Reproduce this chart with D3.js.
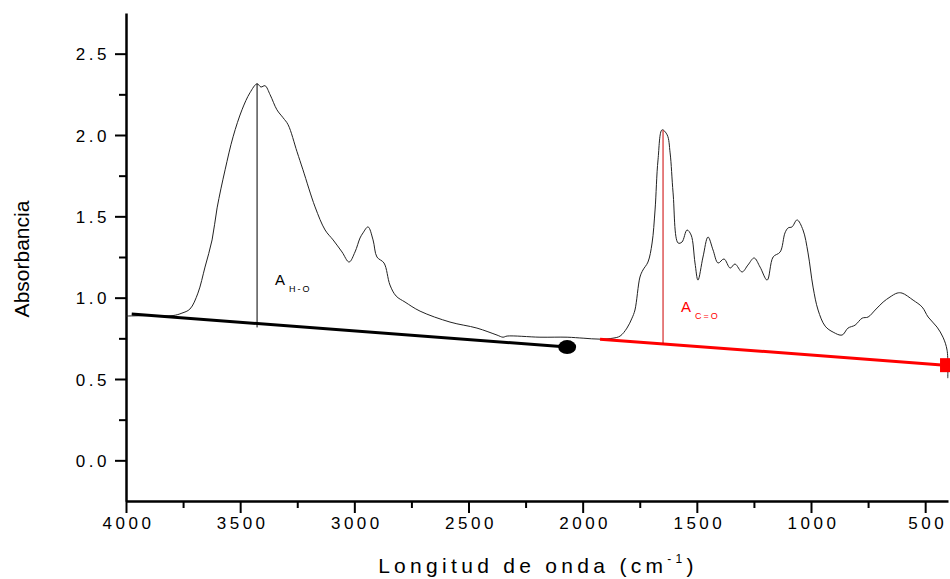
<!DOCTYPE html>
<html>
<head>
<meta charset="utf-8">
<script src="https://cdn.jsdelivr.net/npm/d3@7"></script>
<style>
  body { margin: 0; background: #fff; }
  .tickText { font-family: Arial, "Liberation Sans", sans-serif; font-size: 17px; letter-spacing: 3.5px; fill: #000; }
  .axisTitle { font-family: Arial, "Liberation Sans", sans-serif; fill: #000; }
</style>
</head>
<body>
<div id="chart"></div>
<script>
// IR spectrum, wavenumber (cm-1) vs absorbance
var wavenumber = [4000, 3895, 3794, 3755, 3720, 3685, 3654, 3623, 3601, 3566, 3531, 3492, 3457, 3426, 3409, 3391, 3369, 3339, 3312, 3290,
                  3251, 3225, 3172, 3128, 3093, 3054, 3023, 2997, 2975, 2962, 2940, 2918, 2901, 2870, 2844, 2817, 2778, 2712, 2581, 2463,
                  2375, 2349, 2331, 2187, 2068, 1998, 1924, 1867, 1836, 1806, 1784, 1771, 1749, 1736, 1714, 1696, 1683, 1670, 1652, 1630,
                  1617, 1604, 1582, 1565, 1543, 1525, 1508, 1495, 1473, 1451, 1429, 1407, 1381, 1354, 1333, 1302, 1276, 1249, 1223, 1192,
                  1166, 1135, 1114, 1100, 1083, 1061, 1035, 1013, 991, 969, 938, 903, 864, 838, 807, 776, 750, 719, 684, 654,
                  623, 601, 553, 513, 487, 448, 422, 404, 401];
var absorbance = [0.887, 0.890, 0.890, 0.905, 0.930, 1.028, 1.188, 1.355, 1.552, 1.786, 1.989, 2.155, 2.260, 2.315, 2.295, 2.303, 2.248, 2.155, 2.106, 2.063,
                  1.897, 1.786, 1.558, 1.416, 1.355, 1.281, 1.219, 1.281, 1.367, 1.398, 1.435, 1.355, 1.250, 1.213, 1.078, 1.010, 0.973, 0.917, 0.850, 0.813,
                  0.770, 0.757, 0.764, 0.757, 0.757, 0.751, 0.745, 0.751, 0.764, 0.813, 0.874, 0.924, 1.127, 1.170, 1.219, 1.336, 1.539, 1.847, 2.032, 2.001,
                  1.890, 1.644, 1.336, 1.342, 1.416, 1.385, 1.213, 1.108, 1.250, 1.373, 1.293, 1.213, 1.238, 1.182, 1.207, 1.158, 1.201, 1.244, 1.188, 1.108,
                  1.250, 1.281, 1.398, 1.429, 1.435, 1.478, 1.416, 1.275, 1.065, 0.924, 0.825, 0.788, 0.770, 0.813, 0.831, 0.874, 0.881, 0.924, 0.973, 1.004,
                  1.028, 1.028, 0.985, 0.942, 0.881, 0.819, 0.757, 0.677, 0.505];

// baselines drawn under each band
var baseHO = {x: [3975, 2068], y: [0.900, 0.696]};
var baseCO = {x: [1924, 413], y: [0.745, 0.585]};

// peak heights (vertical lines)
var peakHO = {x: 3426, top: 2.315, bottom: 0.817};
var peakCO = {x: 1648, top: 2.030, bottom: 0.716};

// labels
var labelHO = {x: 3347, y: 1.078, sub: "H-O"};
var labelCO = {x: 1569, y: 0.911, sub: "C=O"};

var xTicks = [4000, 3500, 3000, 2500, 2000, 1500, 1000, 500];
var xMinor = [3750, 3250, 2750, 2250, 1750, 1250, 750];
var yTicks = [0.0, 0.5, 1.0, 1.5, 2.0, 2.5];
var yMinor = [0.25, 0.75, 1.25, 1.75, 2.25];

var margin = {top: 13, right: 2, bottom: 78, left: 126};
var svgWidth = 950, svgHeight = 579;
var width = svgWidth - margin.left - margin.right;
var height = svgHeight - margin.top - margin.bottom;

var svg = d3.select("#chart").append("svg")
    .attr("width", svgWidth)
    .attr("height", svgHeight);

var g = svg.append("g").attr("transform", "translate(" + margin.left + "," + margin.top + ")");

var xScale = d3.scaleLinear().domain([4000, 400]).range([0, width]);
var yScale = d3.scaleLinear().domain([-0.25, 2.75]).range([height, 0]);

//axes: major ticks with labels, minor ticks without
var xAxis = d3.axisBottom(xScale).tickValues(xTicks).tickSize(12).tickSizeOuter(0)
    .tickFormat(d3.format("d"));
var yAxis = d3.axisLeft(yScale).tickValues(yTicks).tickSize(11).tickSizeOuter(0)
    .tickFormat(d3.format(".1f"));

var gx = g.append("g").attr("transform", "translate(0," + height + ")").call(xAxis);
var gy = g.append("g").call(yAxis);

g.append("g").attr("transform", "translate(0," + height + ")")
    .call(d3.axisBottom(xScale).tickValues(xMinor).tickSize(7).tickSizeOuter(0).tickFormat(""))
    .select(".domain").remove();
g.append("g")
    .call(d3.axisLeft(yScale).tickValues(yMinor).tickSize(7).tickSizeOuter(0).tickFormat(""))
    .select(".domain").remove();

g.selectAll(".domain").attr("stroke", "#000").attr("stroke-width", 2.5);
g.selectAll(".tick line").attr("stroke", "#000").attr("stroke-width", 2);

gx.selectAll(".tick text").attr("class", "tickText").attr("dy", 0).attr("y", 28)
    .attr("dx", 2);
gy.selectAll(".tick text").attr("class", "tickText").attr("x", -16).attr("dy", "0.36em");

// axis titles
var xTitle = svg.append("text")
    .attr("class", "axisTitle")
    .attr("x", 538)
    .attr("y", 573)
    .attr("text-anchor", "middle")
    .style("font-size", "21px")
    .style("letter-spacing", "4.3px");
xTitle.append("tspan").text("Longitud de onda (cm");
xTitle.append("tspan").text("-1").style("font-size", "12px").attr("dy", -10);
xTitle.append("tspan").text(")").attr("dy", 10);

svg.append("text")
    .attr("class", "axisTitle")
    .attr("transform", "translate(29," + 259 + ") rotate(-90)")
    .attr("text-anchor", "middle")
    .style("font-size", "21px")
    .text("Absorbancia");

// spectrum
var spectrum = wavenumber.map(function (d, i) { return [d, absorbance[i]]; });
var line = d3.line()
    .x(function (d) { return xScale(d[0]); })
    .y(function (d) { return yScale(d[1]); })
    .curve(d3.curveCatmullRom.alpha(0.5));

g.append("path")
    .datum(spectrum)
    .attr("fill", "none")
    .attr("stroke", "#222")
    .attr("stroke-width", 1)
    .attr("d", line);

// baselines
g.append("line")
    .attr("x1", xScale(baseHO.x[0])).attr("y1", yScale(baseHO.y[0]))
    .attr("x2", xScale(baseHO.x[1])).attr("y2", yScale(baseHO.y[1]))
    .attr("stroke", "#000").attr("stroke-width", 3);
g.append("ellipse")
    .attr("cx", xScale(baseHO.x[1])).attr("cy", yScale(baseHO.y[1]))
    .attr("rx", 9).attr("ry", 7)
    .attr("fill", "#000");

g.append("line")
    .attr("x1", xScale(baseCO.x[0])).attr("y1", yScale(baseCO.y[0]))
    .attr("x2", xScale(baseCO.x[1])).attr("y2", yScale(baseCO.y[1]))
    .attr("stroke", "#ff0000").attr("stroke-width", 3);
g.append("rect")
    .attr("x", xScale(baseCO.x[1]) - 5).attr("y", yScale(baseCO.y[1]) - 7)
    .attr("width", 10).attr("height", 14)
    .attr("fill", "#ff0000");

// peak height lines
g.append("line")
    .attr("x1", xScale(peakHO.x)).attr("x2", xScale(peakHO.x))
    .attr("y1", yScale(peakHO.top)).attr("y2", yScale(peakHO.bottom))
    .attr("stroke", "#000").attr("stroke-width", 1);
g.append("line")
    .attr("x1", xScale(peakCO.x)).attr("x2", xScale(peakCO.x))
    .attr("y1", yScale(peakCO.top)).attr("y2", yScale(peakCO.bottom))
    .attr("stroke", "#cc0000").attr("stroke-width", 1);

// A labels with subscripts
function drawLabel(lab, color) {
    var t = g.append("text")
        .attr("x", xScale(lab.x))
        .attr("y", yScale(lab.y))
        .attr("fill", color)
        .style("font-family", "Arial, 'Liberation Sans', sans-serif");
    t.append("tspan").text("A").style("font-size", "15px");
    t.append("tspan").text(lab.sub).style("font-size", "9px")
        .style("letter-spacing", "2px")
        .attr("dx", 4).attr("dy", 7);
}
drawLabel(labelHO, "#000");
drawLabel(labelCO, "#ff0000");
</script>
</body>
</html>
